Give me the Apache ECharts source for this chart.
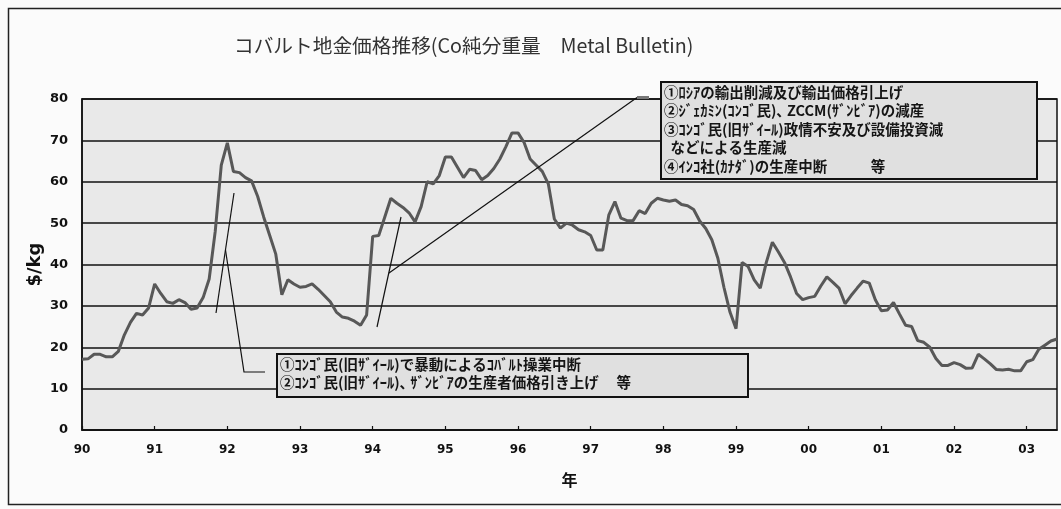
<!DOCTYPE html>
<html>
<head>
<meta charset="utf-8">
<script src="https://cdn.jsdelivr.net/npm/echarts@6/dist/echarts.min.js"></script>
<style>
  html, body { margin: 0; padding: 0; background: #fbfbfb; }
  #chart { width: 1061px; height: 509px; }
</style>
</head>
<body>
<div id="chart"></div>
<script>
// Cobalt metal price, monthly, $/kg (Jan 1990 - Jun 2003)
const startYear = 1990;
const price = [
  17.1, 17.2, 18.3, 18.3, 17.7, 17.7, 19.0, 23.0, 26.0, 28.2, 27.8, 29.5, // 1990
  35.3, 33.0, 31.0, 30.6, 31.5, 30.8, 29.2, 29.5, 32.0, 36.5, 48.0, 64.0, // 1991
  69.4, 62.5, 62.2, 61.0, 60.2, 56.5, 51.5, 47.0, 42.5, 32.7, 36.3, 35.3, // 1992
  34.5, 34.7, 35.3, 34.0, 32.5, 31.0, 28.5, 27.3, 27.0, 26.3, 25.3, 27.8, // 1993
  46.8, 47.0, 51.5, 56.0, 54.8, 53.8, 52.5, 50.3, 54.0, 60.0, 59.5, 61.5, // 1994
  66.0, 66.0, 63.5, 61.0, 63.0, 62.7, 60.5, 61.5, 63.2, 65.5, 68.5, 71.8, // 1995
  71.8, 69.5, 65.5, 64.0, 62.5, 59.5, 51.0, 48.8, 50.0, 49.5, 48.4, 47.9, // 1996
  47.0, 43.5, 43.5, 52.0, 55.2, 51.2, 50.6, 50.6, 53.0, 52.3, 54.8, 56.0, // 1997
  55.6, 55.3, 55.6, 54.5, 54.2, 53.3, 50.5, 48.7, 46.0, 41.5, 34.5, 28.5, // 1998
  24.5, 40.5, 39.5, 36.3, 34.3, 40.5, 45.4, 43.0, 40.5, 37.0, 33.0, 31.5, // 1999
  32.0, 32.3, 34.8, 37.0, 35.7, 34.3, 30.5, 32.5, 34.3, 36.0, 35.5, 31.5, // 2000
  28.8, 29.0, 30.8, 28.0, 25.3, 25.0, 21.6, 21.2, 20.0, 17.3, 15.6, 15.6, // 2001
  16.3, 15.8, 14.9, 15.0, 18.3, 17.2, 16.0, 14.6, 14.5, 14.7, 14.3, 14.3, // 2002
  16.5, 17.0, 19.5, 20.5, 21.5, 22.0                                      // 2003
];

// month categories "YYYY-MM"
const months = [];
for (let i = 0; i < price.length; i++) {
  const y = startYear + Math.floor(i / 12);
  const m = (i % 12) + 1;
  months.push(y + '-' + (m < 10 ? '0' + m : '' + m));
}

const titleText = 'コバルト地金価格推移(Co純分重量　Metal Bulletin)';
const yName = '$/kg';
const xName = '年';

const noteUpper = [
  '①ﾛｼｱの輸出削減及び輸出価格引上げ',
  '②ｼﾞｪｶﾐﾝ(ｺﾝｺﾞ民)､ ZCCM(ｻﾞﾝﾋﾞｱ)の減産',
  '③ｺﾝｺﾞ民(旧ｻﾞｲｰﾙ)政情不安及び設備投資減',
  '  などによる生産減',
  '④ｲﾝｺ社(ｶﾅﾀﾞ)の生産中断　　　等'
];
const noteLower = [
  '①ｺﾝｺﾞ民(旧ｻﾞｲｰﾙ)で暴動によるｺﾊﾞﾙﾄ操業中断',
  '②ｺﾝｺﾞ民(旧ｻﾞｲｰﾙ)､ ｻﾞﾝﾋﾞｱの生産者価格引き上げ　 等'
];

const ink = '#111';
const noteFont = {
  fontFamily: '"Noto Sans CJK JP", sans-serif',
  fontSize: 14.5,
  fontWeight: 'bold',
  fill: '#151515'
};

const chart = echarts.init(document.getElementById('chart'));
chart.setOption({
  animation: false,
  backgroundColor: '#fbfbfb',
  title: {
    text: titleText,
    left: 229,
    top: 31,
    textStyle: {
      fontFamily: '"Noto Sans CJK JP", sans-serif',
      fontSize: 19.7,
      fontWeight: 'normal',
      color: '#333'
    }
  },
  grid: {
    left: 82, right: 4, top: 99, bottom: 79,
    show: true,
    backgroundColor: '#e9e9e9',
    borderColor: ink,
    borderWidth: 1.5
  },
  xAxis: {
    type: 'category',
    data: months,
    boundaryGap: false,
    axisLine: { lineStyle: { color: ink, width: 1.5 } },
    axisTick: {
      inside: true, length: 4,
      interval: (i) => i % 12 === 0,
      lineStyle: { color: ink, width: 1.2 }
    },
    axisLabel: {
      interval: (i) => i % 12 === 0,
      formatter: (v) => v.slice(2, 4),
      fontFamily: '"DejaVu Sans", sans-serif',
      fontWeight: 'bold',
      fontSize: 12,
      color: ink,
      margin: 14
    },
    splitLine: { show: false },
    name: xName,
    nameLocation: 'middle',
    nameGap: 42,
    nameTextStyle: {
      fontFamily: '"Noto Sans CJK JP", sans-serif',
      fontSize: 16, fontWeight: 'bold', color: ink
    }
  },
  yAxis: {
    type: 'value',
    min: 0, max: 80, interval: 10,
    axisLine: { show: true, lineStyle: { color: ink, width: 1.5 } },
    axisTick: { show: false },
    axisLabel: {
      fontFamily: '"DejaVu Sans", sans-serif',
      fontWeight: 'bold',
      fontSize: 13,
      color: ink,
      margin: 14
    },
    splitLine: { lineStyle: { color: ink, width: 1.5 } },
    name: yName,
    nameLocation: 'middle',
    nameRotate: 90,
    nameGap: 38,
    nameMoveOverlap: false,
    nameTextStyle: {
      fontFamily: '"DejaVu Sans", sans-serif',
      fontSize: 18, fontWeight: 'bold', color: ink
    }
  },
  series: [{
    type: 'line',
    data: price,
    showSymbol: false,
    smooth: false,
    lineStyle: { color: '#585858', width: 3 },
    z: 3
  }],
  graphic: [
    // outer frame
    { type: 'rect', z: 0, silent: true,
      shape: { x: 8.5, y: 8.5, width: 1064, height: 496 },
      style: { fill: 'none', stroke: '#222', lineWidth: 1.5 } },
    // leader lines, lower note
    { type: 'polyline', z: 10, silent: true,
      shape: { points: [[216, 313], [234, 193]] },
      style: { stroke: ink, lineWidth: 1.2, fill: 'none' } },
    { type: 'polyline', z: 10, silent: true,
      shape: { points: [[225.5, 250], [244, 372], [265, 372]] },
      style: { stroke: ink, lineWidth: 1.2, fill: 'none' } },
    // leader lines, upper note
    { type: 'polyline', z: 10, silent: true,
      shape: { points: [[377, 327], [401, 217]] },
      style: { stroke: ink, lineWidth: 1.2, fill: 'none' } },
    { type: 'polyline', z: 10, silent: true,
      shape: { points: [[389, 273], [637, 97.5]] },
      style: { stroke: ink, lineWidth: 1.2, fill: 'none' } },
    { type: 'polyline', z: 10, silent: true,
      shape: { points: [[637, 97.5], [649, 97.5]] },
      style: { stroke: '#777', lineWidth: 3, fill: 'none' } },
    // upper note box
    { type: 'rect', z: 11, silent: true,
      shape: { x: 661, y: 82, width: 376, height: 97 },
      style: { fill: '#e0e0e0', stroke: ink, lineWidth: 2 } },
    { type: 'text', z: 12, silent: true, x: 664, y: 83,
      style: Object.assign({ text: noteUpper.join('\n'), lineHeight: 18.5 }, noteFont) },
    // lower note box
    { type: 'rect', z: 11, silent: true,
      shape: { x: 277, y: 354, width: 471, height: 43 },
      style: { fill: '#e0e0e0', stroke: ink, lineWidth: 2 } },
    { type: 'text', z: 12, silent: true, x: 280, y: 355,
      style: Object.assign({ text: noteLower.join('\n'), lineHeight: 18 }, noteFont) }
  ]
});
</script>
</body>
</html>
